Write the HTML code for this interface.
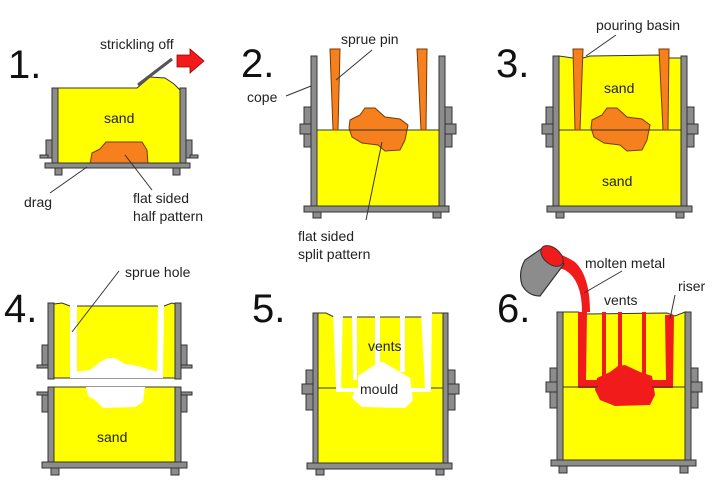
<!DOCTYPE html>
<html><head><meta charset="utf-8"><style>
html,body{margin:0;padding:0;background:#fff;}
svg{display:block;font-family:"Liberation Sans",Arial,sans-serif;}
.g{fill:#8c8c8c;stroke:#333;stroke-width:1;}
.y{fill:#ffff00;stroke:#333;stroke-width:1;}
.o{fill:#f7801e;stroke:#7a3a00;stroke-width:1;}
.w{fill:#fff;stroke:none;}
.r{fill:#f21b1b;stroke:none;}
.l{stroke:#333;stroke-width:1;fill:none;}
.t{font-size:14px;fill:#222;}
.n{font-size:40px;fill:#111;}
</style></head><body>
<svg width="726" height="489" viewBox="0 0 726 489">
<rect width="726" height="489" fill="#fff"/>

<!-- PANEL 1 -->
<text class="n" x="8" y="78">1.</text>
<path class="y" d="M58,88 L137,88 L150,77 L165,78 L174,84 L180,90 L180,164 L58,164 Z"/>
<path class="o" d="M90,164 L92,153 L100,149 L106,142 L142,142 L147,150 L148,164 Z"/>
<rect class="g" x="52" y="88" width="6" height="77"/>
<rect class="g" x="180" y="88" width="6" height="77"/>
<rect class="g" x="46" y="140" width="6" height="18"/><rect class="g" x="40" y="155" width="8" height="3"/>
<rect class="g" x="186" y="140" width="6" height="18"/><rect class="g" x="190" y="155" width="8" height="3"/>
<rect class="g" x="45" y="163" width="145" height="5"/>
<rect class="g" x="55" y="168" width="7" height="7"/><rect class="g" x="173" y="168" width="7" height="7"/>
<line x1="138" y1="85" x2="172" y2="59" stroke="#555" stroke-width="3"/>
<path d="M177,55 L190,55 L190,49 L204,61 L190,73 L190,67 L177,67 Z" fill="#f21b1b" stroke="#900" stroke-width="0.8"/>
<text class="t" x="100" y="49">strickling off</text>
<text class="t" x="104" y="123">sand</text>
<line class="l" x1="87" y1="167" x2="50" y2="193"/>
<line class="l" x1="125" y1="155" x2="152" y2="190"/>
<text class="t" x="24" y="207">drag</text>
<text class="t" x="133" y="203">flat sided</text>
<text class="t" x="133" y="221">half pattern</text>

<!-- PANEL 2 -->
<text class="n" x="241" y="77">2.</text>
<rect class="y" x="317" y="130" width="122" height="76"/>
<path class="o" d="M350,120 L360,115 L365,108 L375,108 L385,117 L400,119 L408,125 L405,140 L400,150 L385,151 L378,145 L362,143 L352,137 L349,128 Z"/>
<line class="l" x1="317" y1="130" x2="439" y2="130"/>
<path class="o" d="M330,49 L340,49 L338,130 L333,130 Z"/>
<path class="o" d="M417,49 L427,49 L426,130 L421,130 Z"/>
<rect class="g" x="311" y="56" width="6" height="152"/>
<rect class="g" x="439" y="56" width="6" height="152"/>
<rect class="g" x="304" y="107" width="7" height="40"/><rect class="g" x="300" y="124" width="11" height="10"/>
<rect class="g" x="445" y="107" width="7" height="40"/><rect class="g" x="445" y="124" width="11" height="10"/>
<rect class="g" x="304" y="206" width="145" height="6"/>
<rect class="g" x="313" y="212" width="8" height="6"/><rect class="g" x="433" y="212" width="8" height="6"/>
<text class="t" x="341" y="44">sprue pin</text>
<line class="l" x1="336" y1="80" x2="372" y2="50"/>
<text class="t" x="247" y="102">cope</text>
<line class="l" x1="286" y1="96" x2="311" y2="86"/>
<line class="l" x1="382" y1="142" x2="366" y2="220"/>
<text class="t" x="298" y="241">flat sided</text>
<text class="t" x="298" y="259">split pattern</text>

<!-- PANEL 3 -->
<text class="n" x="496" y="77">3.</text>
<path class="y" d="M559,56 L573,58 L583,58 L590,56 L660,55 L669,58 L681,58 L681,206 L559,206 Z"/>
<path class="o" d="M592,120 L602,115 L607,108 L617,108 L627,117 L642,119 L650,125 L647,140 L642,150 L627,151 L620,145 L604,143 L594,137 L591,128 Z"/>
<line class="l" x1="559" y1="130" x2="681" y2="130"/>
<path class="o" d="M573,49 L583,49 L580,130 L575,130 Z"/>
<path class="o" d="M659,49 L669,49 L668,130 L663,130 Z"/>
<rect class="g" x="553" y="56" width="6" height="152"/>
<rect class="g" x="681" y="56" width="6" height="152"/>
<rect class="g" x="546" y="107" width="7" height="40"/><rect class="g" x="542" y="124" width="11" height="10"/>
<rect class="g" x="687" y="107" width="7" height="40"/><rect class="g" x="687" y="124" width="11" height="10"/>
<rect class="g" x="547" y="206" width="145" height="6"/>
<rect class="g" x="556" y="212" width="8" height="6"/><rect class="g" x="676" y="212" width="8" height="6"/>
<text class="t" x="596" y="30">pouring basin</text>
<line class="l" x1="586" y1="56" x2="616" y2="35"/>
<text class="t" x="604" y="93">sand</text>
<text class="t" x="602" y="186">sand</text>

<!-- PANEL 4 -->
<text class="n" x="4" y="322">4.</text>
<path class="y" d="M54,304 L62,303 L70,306 L164,306 L172,303 L175,304 L175,378 L54,378 Z"/>
<path class="w" d="M70,303 L77,303 L77,378 L70,378 Z"/>
<path class="w" d="M158,303 L164,303 L163,378 L157,378 Z"/>
<path class="w" d="M70,378 L75,372 L90,370 L100,362 L108,358 L115,358 L125,364 L138,366 L158,372 L163,378 Z"/>
<path class="y" d="M54,387 L175,387 L175,462 L54,462 Z"/>
<path class="w" d="M86,387 L145,387 L143,402 L135,407 L103,408 L95,400 L88,396 Z"/>
<rect class="g" x="48" y="303" width="6" height="76"/>
<rect class="g" x="175" y="303" width="6" height="76"/>
<rect class="g" x="48" y="387" width="6" height="77"/>
<rect class="g" x="175" y="387" width="6" height="77"/>
<rect class="g" x="42" y="345" width="6" height="20"/><rect class="g" x="37" y="365" width="11" height="3"/>
<rect class="g" x="181" y="345" width="6" height="20"/><rect class="g" x="181" y="365" width="11" height="3"/>
<rect class="g" x="42" y="392" width="6" height="20"/><rect class="g" x="37" y="392" width="11" height="3"/>
<rect class="g" x="181" y="392" width="6" height="20"/><rect class="g" x="181" y="392" width="11" height="3"/>
<rect class="g" x="42" y="462" width="145" height="6"/>
<rect class="g" x="51" y="468" width="8" height="7"/><rect class="g" x="171" y="468" width="8" height="7"/>
<text class="t" x="125" y="277">sprue hole</text>
<line class="l" x1="72" y1="332" x2="119" y2="271"/>
<text class="t" x="97" y="442">sand</text>

<!-- PANEL 5 -->
<text class="n" x="252" y="322">5.</text>
<path class="y" d="M318,313 L326,313 L334,317 L424,317 L431,313 L443,313 L443,463 L318,463 Z"/>
<path class="w" d="M333,311 L343,311 L341,388 L336,388 Z"/>
<path class="w" d="M352,311 L357,311 L357,380 L353,380 Z"/>
<path class="w" d="M375,311 L380,311 L380,372 L375,372 Z"/>
<path class="w" d="M400,311 L405,311 L405,372 L400,372 Z"/>
<path class="w" d="M421,311 L432,311 L431,388 L425,388 Z"/>
<path class="w" d="M336,388 L358,388 L358,376 L373,366 L378,362 L383,362 L400,372 L410,378 L413,400 L405,408 L362,407 L352,398 L356,388 L431,388 L431,392 L336,392 Z"/>
<line class="l" x1="318" y1="388" x2="336" y2="388"/><line class="l" x1="431" y1="388" x2="443" y2="388"/>
<rect class="g" x="313" y="313" width="5" height="152"/>
<rect class="g" x="443" y="313" width="5" height="152"/>
<rect class="g" x="306" y="370" width="7" height="40"/><rect class="g" x="302" y="384" width="11" height="10"/>
<rect class="g" x="448" y="370" width="7" height="40"/><rect class="g" x="448" y="384" width="11" height="10"/>
<rect class="g" x="307" y="463" width="145" height="6"/>
<rect class="g" x="316" y="469" width="8" height="6"/><rect class="g" x="436" y="469" width="8" height="6"/>
<text class="t" x="368" y="351">vents</text>
<text class="t" x="360" y="394">mould</text>

<!-- PANEL 6 -->
<text class="n" x="497" y="322">6.</text>
<path class="y" d="M563,312 L578,312 L586,314 L667,313 L675,316 L685,312 L685,463 L563,463 Z"/>
<path class="r" d="M578,312 L587,312 L586,380 L666,380 L665,315 L674,315 L673,388 L578,388 Z"/>
<rect class="r" x="602" y="312" width="4" height="70"/>
<rect class="r" x="618" y="312" width="4" height="70"/>
<rect class="r" x="642" y="312" width="4" height="70"/>
<path class="r" d="M597,378 L610,372 L618,366 L625,365 L640,372 L652,376 L655,395 L650,405 L615,406 L600,400 L595,390 Z"/>
<line class="l" x1="563" y1="387" x2="598" y2="387"/><line class="l" x1="652" y1="387" x2="685" y2="387"/>
<path d="M531,258 Q550,265 565,270 Q582,280 582,312 L590,312 Q590,276 575,262 Q560,252 540,250 Z" fill="#f21b1b"/>
<path d="M544,247 L564,264 L540,296 Q528,296 522,285 Q518,272 525,260 Z" fill="#8c8c8c" stroke="#333" stroke-width="1.2"/>
<ellipse cx="552" cy="256" rx="13" ry="8" transform="rotate(40 552 256)" fill="#f21b1b" stroke="#333" stroke-width="1"/>
<rect class="g" x="557" y="312" width="6" height="153"/>
<rect class="g" x="685" y="312" width="6" height="153"/>
<rect class="g" x="550" y="368" width="7" height="40"/><rect class="g" x="546" y="382" width="11" height="10"/>
<rect class="g" x="691" y="368" width="7" height="40"/><rect class="g" x="691" y="382" width="11" height="10"/>
<rect class="g" x="551" y="460" width="145" height="6"/>
<rect class="g" x="559" y="466" width="8" height="7"/><rect class="g" x="680" y="466" width="8" height="7"/>
<text class="t" x="585" y="268">molten metal</text>
<line class="l" x1="584" y1="293" x2="622" y2="271"/>
<text class="t" x="604" y="305">vents</text>
<text class="t" x="678" y="291">riser</text>
<line class="l" x1="670" y1="319" x2="675" y2="295"/>
</svg>
</body></html>
